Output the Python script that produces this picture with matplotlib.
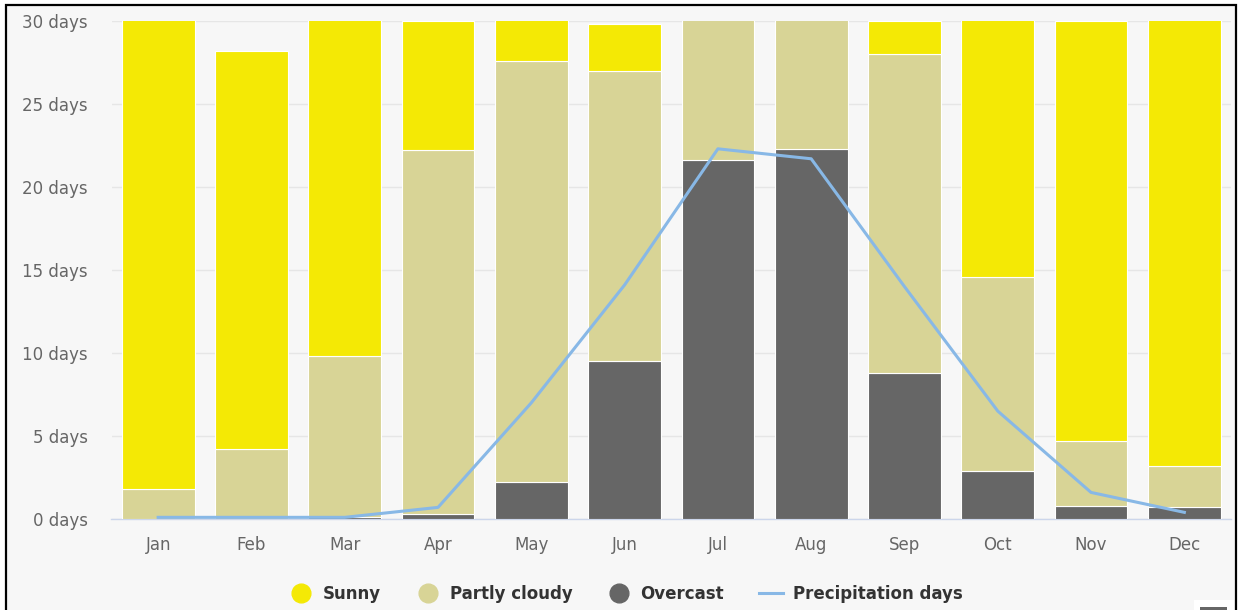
import matplotlib
matplotlib.use("Agg")
import matplotlib.pyplot as plt
import numpy as np
from matplotlib.patches import Rectangle
from matplotlib.lines import Line2D

months = ["Jan", "Feb", "Mar", "Apr", "May", "Jun",
          "Jul", "Aug", "Sep", "Oct", "Nov", "Dec"]
overcast = [0.0, 0.0, 0.1, 0.3, 2.2, 9.5, 21.6, 22.3, 8.8, 2.9, 0.8, 0.7]
partly_cloudy = [1.8, 4.2, 9.7, 21.9, 25.4, 17.5, 9.4, 8.7, 19.2, 11.7, 3.9, 2.5]
sunny = [29.2, 24.0, 21.2, 7.8, 3.4, 2.8, 0.0, 0.0, 2.0, 16.4, 25.3, 27.8]
precipitation = [0.1, 0.1, 0.1, 0.7, 7.0, 14.1, 22.3, 21.7, 14.0, 6.5, 1.6, 0.4]
y_ticks = [0, 5, 10, 15, 20, 25, 30]

C_SUNNY = "#f4e905"
C_PARTLY = "#d8d496"
C_OVERCAST = "#666666"
C_PRECIP = "#88b8e6"
BG = "#f7f7f7"

W, H = 1239, 610
fig = plt.figure(figsize=(W / 100, H / 100), dpi=100, facecolor="white")

# panel background with a black frame on top, left and right
panel = Rectangle((6 / W, -20 / H), (1236 - 6) / W, (605 + 20) / H,
                  transform=fig.transFigure, facecolor=BG, edgecolor="black",
                  linewidth=1.6, zorder=0)
fig.add_artist(panel)

ax = fig.add_axes([111.5 / W, (H - 519) / H, (1231 - 111.5) / W, (519 - 21) / H])
ax.set_facecolor("none")

x = np.arange(len(months))
ov = np.array(overcast)
pc = np.array(partly_cloudy)
sn = np.array(sunny)
bw = 0.78
ax.bar(x, ov, width=bw, color=C_OVERCAST, edgecolor="white", linewidth=0.8, zorder=2)
ax.bar(x, pc, width=bw, bottom=ov, color=C_PARTLY, edgecolor="white", linewidth=0.8, zorder=2)
ax.bar(x, sn, width=bw, bottom=ov + pc, color=C_SUNNY, edgecolor="white", linewidth=0.8, zorder=2)
ax.plot(x, precipitation, color=C_PRECIP, linewidth=2.2, zorder=3, solid_joinstyle="round")

ax.set_xlim(-0.5, len(months) - 0.5)
ax.set_ylim(0, 30)
ax.set_yticks(y_ticks)
ax.set_yticklabels([f"{v} days" for v in y_ticks])
ax.set_xticks(x)
ax.set_xticklabels(months)
ax.tick_params(axis="both", length=0, labelsize=12, labelcolor="#666666")
ax.tick_params(axis="y", pad=17)
ax.tick_params(axis="x", pad=12)
ax.grid(axis="y", color="#e6e6e6", linewidth=1.0, zorder=0)
ax.set_axisbelow(True)
for side in ["top", "right", "left"]:
    ax.spines[side].set_visible(False)
ax.spines["bottom"].set_color("#ccd6eb")
ax.spines["bottom"].set_linewidth(1.0)
ax.spines["bottom"].set_zorder(1)

handles = [
    Line2D([], [], linestyle="none", marker="o", markersize=13.5, color=C_SUNNY),
    Line2D([], [], linestyle="none", marker="o", markersize=13.5, color=C_PARTLY),
    Line2D([], [], linestyle="none", marker="o", markersize=13.5, color=C_OVERCAST),
    Line2D([], [], color=C_PRECIP, linewidth=2.2),
]
labels = ["Sunny", "Partly cloudy", "Overcast", "Precipitation days"]
leg = fig.legend(handles, labels, loc="center", bbox_to_anchor=(626 / W, 1 - 594 / H),
                 ncol=4, frameon=False, handlelength=1.4, handletextpad=0.6,
                 columnspacing=2.1, borderpad=0, borderaxespad=0,
                 prop={"size": 12, "weight": "bold"})
for t in leg.get_texts():
    t.set_color("#333333")

# export menu button in the bottom-right corner
fig.add_artist(Rectangle((1194 / W, 0), 40 / W, 10 / H, transform=fig.transFigure,
                         facecolor="white", edgecolor="none", zorder=1))
fig.add_artist(Rectangle((1200 / W, 0), 27 / W, 3.5 / H, transform=fig.transFigure,
                         facecolor="#666666", edgecolor="none", zorder=2))

fig.savefig("out.png", dpi=100, facecolor=fig.get_facecolor())
